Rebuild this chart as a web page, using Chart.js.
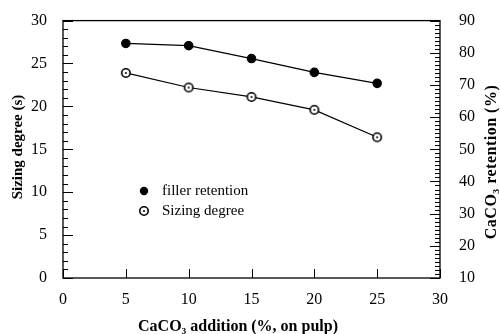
<!DOCTYPE html>
<html>
<head>
<meta charset="utf-8">
<script src="https://cdn.jsdelivr.net/npm/chart.js@4.4.0/dist/chart.umd.min.js"></script>
<style>
  html, body { margin: 0; padding: 0; background: #fff; }
  #wrap { width: 500px; height: 334px; }
</style>
</head>
<body>
<div id="wrap"><canvas id="c"></canvas></div>
<script>
const additions = [5, 10, 15, 20, 25]
const fillerRetention = [82.9, 82.2, 78.2, 73.9, 70.5]
const sizingDegree = [23.9, 22.2, 21.1, 19.6, 16.4]
const xTicks = [0, 5, 10, 15, 20, 25, 30]
const leftTicks = [0, 5, 10, 15, 20, 25, 30]
const rightTicks = [10, 20, 30, 40, 50, 60, 70, 80, 90]

const serif = '"Liberation Serif", "DejaVu Serif", serif'

// open circle with a dot in the middle
function dotCircle() {
  const c = document.createElement('canvas')
  c.width = 12
  c.height = 12
  const g = c.getContext('2d')
  g.beginPath()
  g.arc(6, 6, 4.2, 0, Math.PI * 2)
  g.fillStyle = '#fff'
  g.fill()
  g.lineWidth = 1.6
  g.strokeStyle = '#000'
  g.stroke()
  g.beginPath()
  g.arc(6, 6, 1, 0, Math.PI * 2)
  g.fillStyle = '#000'
  g.fill()
  return c
}
const openMark = dotCircle()

const frame = {
  id: 'frame',
  afterDraw(chart) {
    const ctx = chart.ctx
    const a = chart.chartArea
    const x = chart.scales.x
    const y = chart.scales.y
    const y2 = chart.scales.y2
    ctx.save()
    ctx.strokeStyle = '#000'
    ctx.lineWidth = 1.3
    ctx.strokeRect(a.left, a.top, a.right - a.left, a.bottom - a.top)

    ctx.lineWidth = 1
    ctx.beginPath()
    for (let v = 0; v <= 30; v += 1) {
      const p = Math.round(y.getPixelForValue(v)) + 0.5
      const len = v % 5 === 0 ? 10 : 5
      ctx.moveTo(a.left, p)
      ctx.lineTo(a.left + len, p)
    }
    for (let v = 10; v <= 90; v += 1.25) {
      const p = Math.round(y2.getPixelForValue(v)) + 0.5
      const len = v % 10 === 0 ? 10 : 5
      ctx.moveTo(a.right, p)
      ctx.lineTo(a.right - len, p)
    }
    xTicks.forEach(v => {
      const p = Math.round(x.getPixelForValue(v)) + 0.5
      ctx.moveTo(p, a.bottom)
      ctx.lineTo(p, a.bottom - 9)
    })
    ctx.stroke()

    // axis titles
    ctx.fillStyle = '#000'
    ctx.textAlign = 'center'
    ctx.textBaseline = 'middle'
    ctx.font = 'bold 16px ' + serif
    ctx.fillText('CaCO₃ addition (%, on pulp)', 238, 327)
    ctx.save()
    ctx.font = 'bold 15px ' + serif
    ctx.translate(18, 147)
    ctx.rotate(-Math.PI / 2)
    ctx.fillText('Sizing degree (s)', 0, 0)
    ctx.restore()
    ctx.save()
    ctx.font = 'bold 16px ' + serif
    ctx.letterSpacing = '0.5px'
    ctx.translate(492, 162)
    ctx.rotate(-Math.PI / 2)
    ctx.fillText('CaCO₃ retention (%)', 0, 0)
    ctx.restore()

    // legend
    ctx.font = '15px ' + serif
    ctx.textAlign = 'left'
    ctx.beginPath()
    ctx.arc(144, 191, 4.2, 0, Math.PI * 2)
    ctx.fill()
    ctx.drawImage(openMark, 144 - 6, 211 - 6)
    ctx.fillText('filler retention', 162, 191)
    ctx.fillText('Sizing degree', 162, 211)
    ctx.restore()
  }
}

new Chart(document.getElementById('c'), {
  type: 'line',
  data: {
    datasets: [
      {
        label: 'filler retention',
        data: additions.map((a, i) => ({x: a, y: fillerRetention[i]})),
        yAxisID: 'y2',
        borderColor: '#000',
        borderWidth: 1.2,
        pointBackgroundColor: '#000',
        pointBorderColor: '#000',
        pointRadius: 4.2,
        tension: 0,
        fill: false,
      },
      {
        label: 'Sizing degree',
        data: additions.map((a, i) => ({x: a, y: sizingDegree[i]})),
        yAxisID: 'y',
        borderColor: '#000',
        borderWidth: 1.2,
        pointStyle: openMark,
        tension: 0,
        fill: false,
      },
    ],
  },
  options: {
    responsive: true,
    maintainAspectRatio: false,
    animation: false,
    events: [],
    layout: {padding: {top: 17, left: 0, right: 0, bottom: 0}},
    plugins: {legend: {display: false}, tooltip: {enabled: false}},
    scales: {
      x: {
        type: 'linear',
        min: 0,
        max: 30,
        afterBuildTicks: s => { s.ticks = xTicks.map(v => ({value: v})) },
        afterFit: s => { s.height = 56 },
        grid: {display: false},
        border: {display: false},
        ticks: {color: '#000', padding: 4, font: {family: serif, size: 16}},
      },
      y: {
        position: 'left',
        min: 0,
        max: 30,
        afterBuildTicks: s => { s.ticks = leftTicks.map(v => ({value: v})) },
        afterFit: s => { s.width = 63 },
        grid: {display: false},
        border: {display: false},
        ticks: {color: '#000', padding: 8, font: {family: serif, size: 16}},
      },
      y2: {
        position: 'right',
        min: 10,
        max: 90,
        afterBuildTicks: s => { s.ticks = rightTicks.map(v => ({value: v})) },
        afterFit: s => { s.width = 60 },
        grid: {display: false},
        border: {display: false},
        ticks: {color: '#000', padding: 11, font: {family: serif, size: 16}},
      },
    },
  },
  plugins: [frame],
})
</script>
</body>
</html>
